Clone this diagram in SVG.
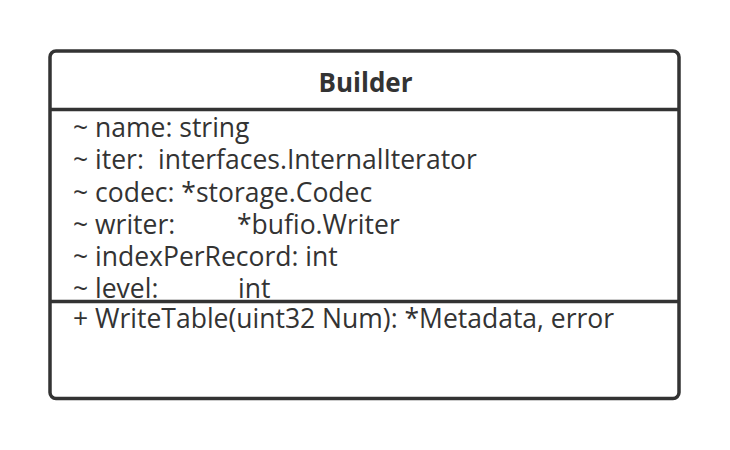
<svg xmlns="http://www.w3.org/2000/svg" width="730" height="450" viewBox="0 0 730 450">
  <style>
    .box { fill: #ffffff; stroke: #333333; stroke-width: 3.5; }
    .sep { stroke: #333333; stroke-width: 3.5; }
    .title { font-family: "Open Sans", "Noto Sans", "DejaVu Sans", sans-serif; font-size: 26px; font-weight: bold; fill: #333333; text-anchor: middle; }
    .member { font-family: "Open Sans", "Noto Sans", "DejaVu Sans", sans-serif; font-size: 26.5px; fill: #333333; }
  </style>
  <rect width="730" height="450" fill="#ffffff"/>
  <g id="Builder">
    <rect class="box" x="50" y="51" width="629" height="347.5" rx="6" ry="6"/>
    <line class="sep" x1="50" y1="109.5" x2="679" y2="109.5"/>
    <line class="sep" x1="50" y1="301.5" x2="679" y2="301.5"/>
    <text class="title" x="365.5" y="92">Builder</text>
    <text class="member" x="73" y="137">~ name: string</text>
    <text class="member" x="73" y="169">~ iter: <tspan x="158">interfaces.InternalIterator</tspan></text>
    <text class="member" x="73" y="202">~ codec: *storage.Codec</text>
    <text class="member" x="73" y="234">~ writer: <tspan x="237">*bufio.Writer</tspan></text>
    <text class="member" x="73" y="266">~ indexPerRecord: int</text>
    <text class="member" x="73" y="298">~ level: <tspan x="238">int</tspan></text>
    <text class="member" x="73" y="328">+ WriteTable(uint32 Num): *Metadata, error</text>
  </g>
  <g id="connectors"/>
</svg>
